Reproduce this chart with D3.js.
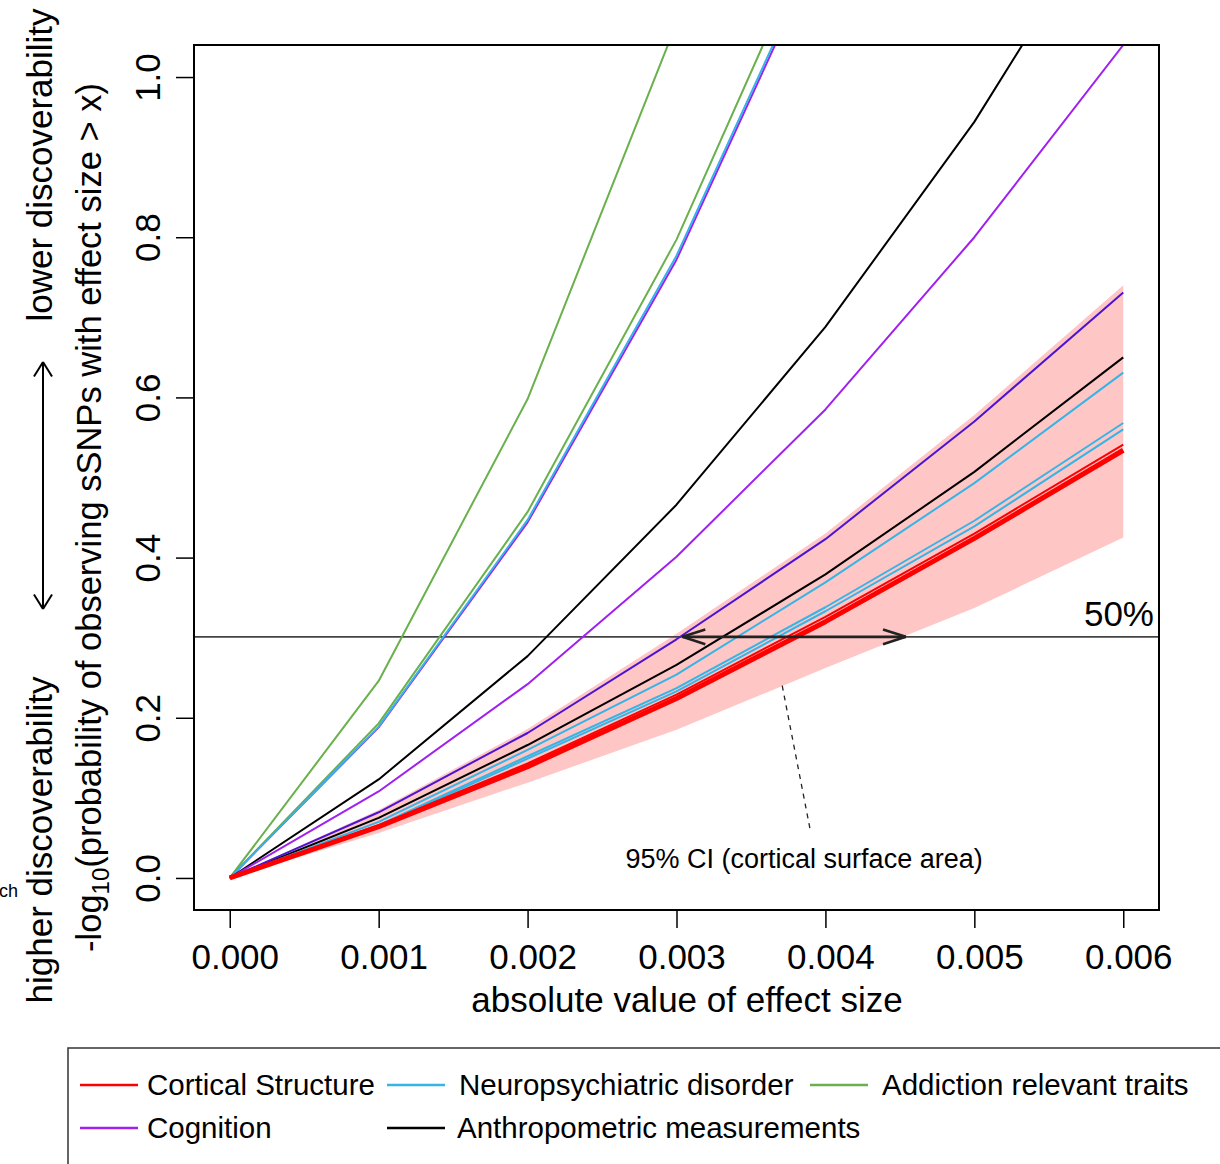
<!DOCTYPE html>
<html>
<head>
<meta charset="utf-8">
<script src="https://cdn.jsdelivr.net/npm/d3@7/dist/d3.min.js"></script>
<style>
  html, body { margin: 0; padding: 0; background: #fff; }
  svg { display: block; font-family: "Liberation Sans", Arial, Helvetica, sans-serif; }
</style>
</head>
<body>
<svg id="chart" width="1220" height="1164"></svg>
<script>
// Effect-size grid (x) shared by every curve
const effectSizes = [0, 0.001, 0.002, 0.003, 0.004, 0.005, 0.006];
const xTickLabels = ["0.000", "0.001", "0.002", "0.003", "0.004", "0.005", "0.006"];
const yTickValues = [0, 0.2, 0.4, 0.6, 0.8, 1.0];
const yTickLabels = ["0.0", "0.2", "0.4", "0.6", "0.8", "1.0"];

// 95% CI band for cortical surface area
const ciLower = [0, 0.056, 0.119, 0.185, 0.262, 0.337, 0.425];
const ciUpper = [0, 0.085, 0.186, 0.305, 0.430, 0.578, 0.740];

// -log10(P(|beta| > x)) curves, one per trait
const addictionA = [0, 0.246, 0.598, 1.067, 1.60, 2.20, 2.90];
const addictionB = [0, 0.193, 0.457, 0.797, 1.215, 1.70, 2.20];
const neuroSteep = [0, 0.189, 0.447, 0.777, 1.183, 1.65, 2.15];
const cognitionSteep = [0, 0.188, 0.444, 0.772, 1.177, 1.64, 2.14];
const anthroSteep = [0, 0.123, 0.277, 0.466, 0.688, 0.944, 1.242];
const cognitionMid = [0, 0.108, 0.242, 0.401, 0.585, 0.800, 1.040];
const cognitionLow = [0, 0.082, 0.181, 0.298, 0.423, 0.570, 0.731];
const anthroLow = [0, 0.075, 0.166, 0.266, 0.379, 0.507, 0.650];
const neuroMid = [0, 0.070, 0.160, 0.254, 0.369, 0.493, 0.631];
const neuroLowA = [0, 0.066, 0.152, 0.237, 0.338, 0.446, 0.568];
const neuroLowB = [0, 0.065, 0.149, 0.233, 0.333, 0.439, 0.560];
const corticalThickness = [0, 0.066, 0.143, 0.229, 0.326, 0.430, 0.541];
const corticalSurface = [0, 0.064, 0.139, 0.224, 0.320, 0.424, 0.534];

// 50% reference level and the span marked by the double arrow
const halfLevel = 0.30103;
const arrowSpan = [0.00304, 0.00454];

// Legend entries
const legendNames = ["Cortical Structure", "Neuropsychiatric disorder", "Addiction relevant traits",
                     "Cognition", "Anthropometric measurements"];

// ---- styling ----
const groupColor = {
  "Cortical Structure": "#ff0000",
  "Neuropsychiatric disorder": "#36b4e5",
  "Addiction relevant traits": "#6ab04c",
  "Cognition": "#a020f0",
  "Anthropometric measurements": "#000000"
};

const curves = [
  { values: addictionA, group: "Addiction relevant traits" },
  { values: addictionB, group: "Addiction relevant traits" },
  { values: cognitionSteep, group: "Cognition" },
  { values: neuroSteep, group: "Neuropsychiatric disorder" },
  { values: anthroSteep, group: "Anthropometric measurements" },
  { values: cognitionMid, group: "Cognition" },
  { values: anthroLow, group: "Anthropometric measurements" },
  { values: neuroMid, group: "Neuropsychiatric disorder" },
  { values: neuroLowA, group: "Neuropsychiatric disorder" },
  { values: neuroLowB, group: "Neuropsychiatric disorder" },
  { values: cognitionLow, group: "Cognition", stroke: "#4b14d4" },
  { values: corticalThickness, group: "Cortical Structure" },
  { values: corticalSurface, group: "Cortical Structure", width: 5 }
];

const AXIS_FONT = 35;

const svg = d3.select("#chart");
const box = { left: 194, right: 1159, top: 45, bottom: 910 };

const x = d3.scaleLinear().domain([-0.00024, 0.00624]).range([box.left, box.right]);
const y = d3.scaleLinear().domain([-0.04, 1.04]).range([box.bottom, box.top]);

svg.append("defs").append("clipPath").attr("id", "plotClip")
  .append("rect")
  .attr("x", box.left).attr("y", box.top)
  .attr("width", box.right - box.left).attr("height", box.bottom - box.top);

const plot = svg.append("g").attr("clip-path", "url(#plotClip)");

// CI band
const area = d3.area()
  .x((d, i) => x(effectSizes[i]))
  .y0((d, i) => y(ciLower[i]))
  .y1((d, i) => y(ciUpper[i]));
plot.append("path").datum(effectSizes)
  .attr("d", area)
  .attr("fill", "#ffc6c6");

// 50% line
plot.append("line")
  .attr("x1", box.left).attr("x2", box.right)
  .attr("y1", y(halfLevel)).attr("y2", y(halfLevel))
  .attr("stroke", "#444").attr("stroke-width", 1.6);

// curves
const line = d3.line()
  .x((d, i) => x(effectSizes[i]))
  .y(d => y(d));
plot.selectAll("path.curve").data(curves).join("path")
  .attr("class", "curve")
  .attr("d", d => line(d.values))
  .attr("fill", "none")
  .attr("stroke", d => d.stroke || groupColor[d.group])
  .attr("stroke-width", d => d.width || 2)
  .attr("stroke-linejoin", "round");

// helper for open arrowheads
function arrowHead(g, tipX, tipY, dirX, dirY, len, angleDeg) {
  const a = Math.atan2(dirY, dirX);
  const t = angleDeg * Math.PI / 180;
  [a + Math.PI - t, a + Math.PI + t].forEach(ang => {
    g.append("line")
      .attr("x1", tipX).attr("y1", tipY)
      .attr("x2", tipX + len * Math.cos(ang)).attr("y2", tipY + len * Math.sin(ang));
  });
}

// double arrow on the 50% line
const arrowG = svg.append("g").attr("stroke", "#222").attr("stroke-width", 2.6).attr("fill", "none");
const ay = y(halfLevel);
arrowG.append("line").attr("x1", x(arrowSpan[0])).attr("x2", x(arrowSpan[1])).attr("y1", ay).attr("y2", ay);
arrowHead(arrowG, x(arrowSpan[0]), ay, -1, 0, 24, 18);
arrowHead(arrowG, x(arrowSpan[1]), ay, 1, 0, 24, 18);

// CI annotation
svg.append("line")
  .attr("x1", x(0.00371)).attr("y1", y(0.240))
  .attr("x2", x(0.00390)).attr("y2", y(0.058))
  .attr("stroke", "#222").attr("stroke-width", 1.3).attr("stroke-dasharray", "5,5");
svg.append("text")
  .attr("x", x(0.003857)).attr("y", 868)
  .attr("text-anchor", "middle").attr("font-size", 27)
  .text("95% CI (cortical surface area)");

svg.append("text")
  .attr("x", 1154).attr("y", 626)
  .attr("text-anchor", "end").attr("font-size", AXIS_FONT)
  .text("50%");

// frame
svg.append("rect")
  .attr("x", box.left).attr("y", box.top)
  .attr("width", box.right - box.left).attr("height", box.bottom - box.top)
  .attr("fill", "none").attr("stroke", "#000").attr("stroke-width", 2);

// x axis
const xAxis = d3.axisBottom(x).tickValues(effectSizes).tickFormat((d, i) => xTickLabels[i])
  .tickSize(18).tickPadding(16);
const gx = svg.append("g").attr("transform", `translate(0,${box.bottom})`).call(xAxis);
gx.select(".domain").remove();
gx.selectAll(".tick line").attr("stroke", "#000").attr("stroke-width", 1.5);
gx.selectAll(".tick text").attr("font-size", AXIS_FONT).attr("fill", "#000")
  .attr("dx", 5)
  .attr("font-family", "Liberation Sans, Arial, sans-serif");

svg.append("text")
  .attr("x", 687).attr("y", 1012)
  .attr("text-anchor", "middle").attr("font-size", AXIS_FONT)
  .text("absolute value of effect size");

// y axis
const yAxis = d3.axisLeft(y).tickValues(yTickValues).tickFormat((d, i) => yTickLabels[i])
  .tickSize(18);
const gy = svg.append("g").attr("transform", `translate(${box.left},0)`).call(yAxis);
gy.select(".domain").remove();
gy.selectAll(".tick line").attr("stroke", "#000").attr("stroke-width", 1.5);
gy.selectAll(".tick text")
  .attr("font-size", AXIS_FONT).attr("fill", "#000")
  .attr("font-family", "Liberation Sans, Arial, sans-serif")
  .attr("text-anchor", "middle").attr("dy", null)
  .attr("x", null)
  .attr("transform", "translate(-34,0) rotate(-90)");

// y axis title with subscript
const yTitle = svg.append("text")
  .attr("transform", `translate(101,${(y(0) + y(1)) / 2 + 40}) rotate(-90)`)
  .attr("text-anchor", "middle").attr("font-size", 34.5);
yTitle.append("tspan").text("-log");
yTitle.append("tspan").attr("font-size", 24).attr("dy", 8).text("10");
yTitle.append("tspan").attr("dy", -8).text("(probability of observing sSNPs with effect size > x)");

// discoverability annotation
svg.append("text")
  .attr("transform", "translate(52,840) rotate(-90)")
  .attr("text-anchor", "middle").attr("font-size", AXIS_FONT)
  .text("higher discoverability");
svg.append("text")
  .attr("transform", "translate(52,165) rotate(-90)")
  .attr("text-anchor", "middle").attr("font-size", AXIS_FONT)
  .text("lower discoverability");
const sideArrow = svg.append("g").attr("stroke", "#000").attr("stroke-width", 2).attr("fill", "none");
sideArrow.append("line").attr("x1", 43).attr("x2", 43).attr("y1", 362).attr("y2", 609);
arrowHead(sideArrow, 43, 362, 0, -1, 17, 32);
arrowHead(sideArrow, 43, 609, 0, 1, 17, 32);

svg.append("text").attr("x", -1).attr("y", 897).attr("font-size", 18).text("ch");

// legend
const legend = svg.append("g");
legend.append("rect")
  .attr("x", 68).attr("y", 1048).attr("width", 1200).attr("height", 160)
  .attr("fill", "none").attr("stroke", "#333").attr("stroke-width", 1.5);
const legendPos = [
  { lx: 80, ty: 1085, tx: 147 }, { lx: 387, ty: 1085, tx: 459 }, { lx: 810, ty: 1085, tx: 882 },
  { lx: 80, ty: 1128, tx: 147 }, { lx: 387, ty: 1128, tx: 457 }
];
legendNames.forEach((name, i) => {
  const p = legendPos[i];
  legend.append("line")
    .attr("x1", p.lx).attr("x2", p.lx + 58).attr("y1", p.ty).attr("y2", p.ty)
    .attr("stroke", groupColor[name]).attr("stroke-width", 2.5);
  legend.append("text")
    .attr("x", p.tx).attr("y", p.ty + 10)
    .attr("font-size", 29.5).text(name);
});
</script>
</body>
</html>
